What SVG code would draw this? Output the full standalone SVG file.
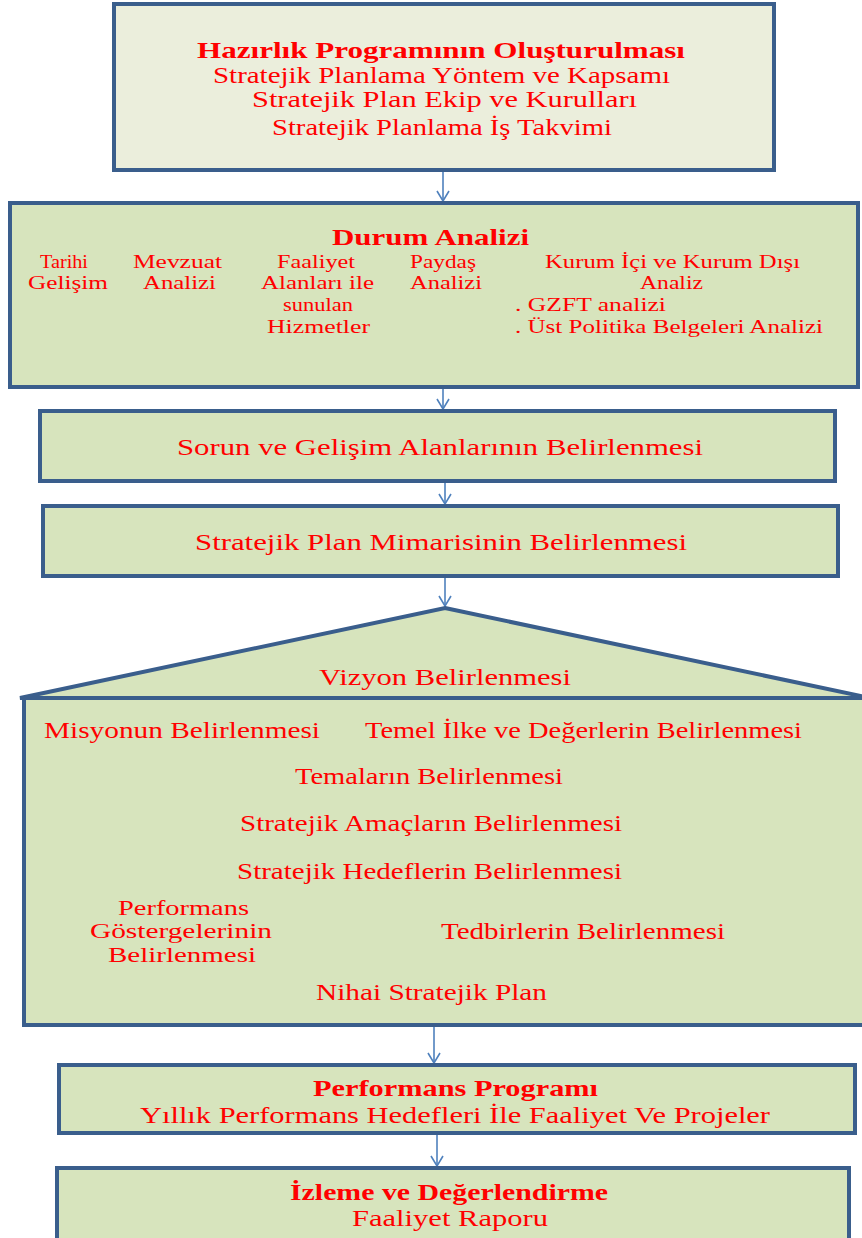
<svg xmlns="http://www.w3.org/2000/svg" width="862" height="1238" viewBox="0 0 862 1238">
<defs>
<style>
.box{fill:#D7E4BD;stroke:#3A5E8C;stroke-width:4}
.light{fill:#EBEEDC}
.t{font-family:"Liberation Serif","Times New Roman",serif;font-size:24px;fill:#FF0000}
.b{font-weight:bold}
.s{font-size:18px}
.m{font-size:21px}
.c{stroke:#4F81BD;stroke-width:1.6;fill:none}
</style>
<marker id="ah" markerWidth="12" markerHeight="14" refX="11" refY="7" orient="auto" markerUnits="userSpaceOnUse" viewBox="0 0 12 14">
<path d="M1,1 L11,7 L1,13" fill="none" stroke="#4F81BD" stroke-width="1.6"/>
</marker>
</defs>
<rect width="862" height="1238" fill="#FFFFFF"/>
<g id="connectors">
<line class="c" x1="443" y1="171" x2="443" y2="201" marker-end="url(#ah)"/>
<line class="c" x1="443" y1="389" x2="443" y2="409" marker-end="url(#ah)"/>
<line class="c" x1="445" y1="482" x2="445" y2="504" marker-end="url(#ah)"/>
<line class="c" x1="445" y1="577" x2="445" y2="606" marker-end="url(#ah)"/>
<line class="c" x1="434" y1="1027" x2="434" y2="1063" marker-end="url(#ah)"/>
<line class="c" x1="437" y1="1135" x2="437" y2="1166" marker-end="url(#ah)"/>
</g>
<g id="node1">
<rect class="box light" x="114" y="4" width="660" height="166"/>
<text class="t b" x="197" y="58" textLength="488" lengthAdjust="spacingAndGlyphs">Hazırlık Programının Oluşturulması</text>
<text class="t" x="213" y="83" textLength="457" lengthAdjust="spacingAndGlyphs">Stratejik Planlama Yöntem ve Kapsamı</text>
<text class="t" x="252" y="107" textLength="385" lengthAdjust="spacingAndGlyphs">Stratejik Plan Ekip ve Kurulları</text>
<text class="t" x="272" y="135" textLength="340" lengthAdjust="spacingAndGlyphs">Stratejik Planlama İş Takvimi</text>
</g>
<g id="node2">
<rect class="box" x="10" y="203" width="848" height="184"/>
<text class="t b" x="332" y="245" textLength="197" lengthAdjust="spacingAndGlyphs">Durum Analizi</text>
<text class="t s" x="40" y="268" textLength="48" lengthAdjust="spacingAndGlyphs">Tarihi</text>
<text class="t s" x="28" y="289" textLength="80" lengthAdjust="spacingAndGlyphs">Gelişim</text>
<text class="t s" x="133" y="268" textLength="89" lengthAdjust="spacingAndGlyphs">Mevzuat</text>
<text class="t s" x="143" y="289" textLength="73" lengthAdjust="spacingAndGlyphs">Analizi</text>
<text class="t s" x="277" y="268" textLength="78" lengthAdjust="spacingAndGlyphs">Faaliyet</text>
<text class="t s" x="261" y="289" textLength="113" lengthAdjust="spacingAndGlyphs">Alanları ile</text>
<text class="t s" x="283" y="311" textLength="70" lengthAdjust="spacingAndGlyphs">sunulan</text>
<text class="t s" x="267" y="333" textLength="103" lengthAdjust="spacingAndGlyphs">Hizmetler</text>
<text class="t s" x="410" y="268" textLength="66" lengthAdjust="spacingAndGlyphs">Paydaş</text>
<text class="t s" x="410" y="289" textLength="72" lengthAdjust="spacingAndGlyphs">Analizi</text>
<text class="t s" x="545" y="268" textLength="255" lengthAdjust="spacingAndGlyphs">Kurum İçi ve Kurum Dışı</text>
<text class="t s" x="640" y="289" textLength="63" lengthAdjust="spacingAndGlyphs">Analiz</text>
<text class="t s" x="515" y="311" textLength="151" lengthAdjust="spacingAndGlyphs">. GZFT analizi</text>
<text class="t s" x="515" y="333" textLength="308" lengthAdjust="spacingAndGlyphs">. Üst Politika Belgeleri Analizi</text>
</g>
<g id="node3">
<rect class="box" x="40" y="411" width="795" height="70"/>
<text class="t" x="177" y="455" textLength="526" lengthAdjust="spacingAndGlyphs">Sorun ve Gelişim Alanlarının Belirlenmesi</text>
</g>
<g id="node4">
<rect class="box" x="43" y="506" width="795" height="70"/>
<text class="t" x="195" y="550" textLength="492" lengthAdjust="spacingAndGlyphs">Stratejik Plan Mimarisinin Belirlenmesi</text>
</g>
<g id="node5">
<polygon class="box" points="445,608 870,698 20,698"/>
<rect class="box" x="24" y="698" width="846" height="327"/>
<text class="t" x="319" y="685" textLength="252" lengthAdjust="spacingAndGlyphs">Vizyon Belirlenmesi</text>
<text class="t" x="44" y="738" textLength="276" lengthAdjust="spacingAndGlyphs">Misyonun Belirlenmesi</text>
<text class="t" x="365" y="738" textLength="437" lengthAdjust="spacingAndGlyphs">Temel İlke ve Değerlerin Belirlenmesi</text>
<text class="t" x="295" y="784" textLength="268" lengthAdjust="spacingAndGlyphs">Temaların Belirlenmesi</text>
<text class="t" x="240" y="831" textLength="382" lengthAdjust="spacingAndGlyphs">Stratejik Amaçların Belirlenmesi</text>
<text class="t" x="237" y="879" textLength="385" lengthAdjust="spacingAndGlyphs">Stratejik Hedeflerin Belirlenmesi</text>
<text class="t m" x="118" y="915" textLength="131" lengthAdjust="spacingAndGlyphs">Performans</text>
<text class="t m" x="90" y="938" textLength="182" lengthAdjust="spacingAndGlyphs">Göstergelerinin</text>
<text class="t m" x="108" y="962" textLength="148" lengthAdjust="spacingAndGlyphs">Belirlenmesi</text>
<text class="t" x="441" y="939" textLength="284" lengthAdjust="spacingAndGlyphs">Tedbirlerin Belirlenmesi</text>
<text class="t" x="316" y="1000" textLength="231" lengthAdjust="spacingAndGlyphs">Nihai Stratejik Plan</text>
</g>
<g id="node6">
<rect class="box" x="59" y="1065" width="796" height="68"/>
<text class="t b" x="313" y="1096" textLength="285" lengthAdjust="spacingAndGlyphs">Performans Programı</text>
<text class="t" x="140" y="1123" textLength="630" lengthAdjust="spacingAndGlyphs">Yıllık Performans Hedefleri İle Faaliyet Ve Projeler</text>
</g>
<g id="node7">
<rect class="box" x="57" y="1168" width="792" height="80"/>
<text class="t b" x="290" y="1200" textLength="318" lengthAdjust="spacingAndGlyphs">İzleme ve Değerlendirme</text>
<text class="t" x="352" y="1226" textLength="196" lengthAdjust="spacingAndGlyphs">Faaliyet Raporu</text>
</g>
</svg>
